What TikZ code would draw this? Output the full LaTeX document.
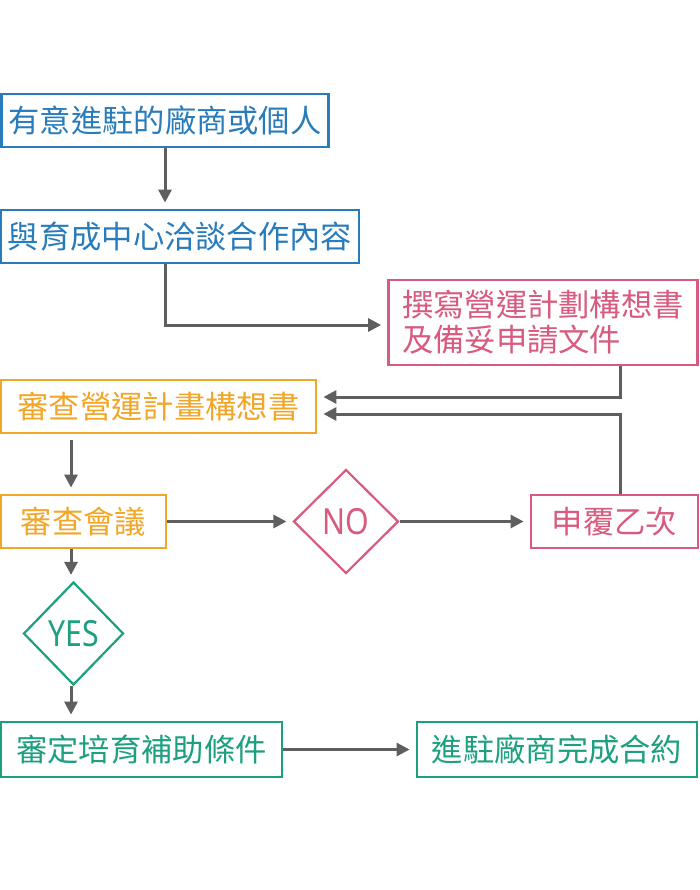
\documentclass[tikz,border=0pt]{standalone}
\usepackage{fontspec}
\usetikzlibrary{arrows.meta,shapes.geometric,calc}
\newfontfamily\cjk{Noto Sans CJK TC}
\newfontfamily\latinc[FakeStretch=0.84]{Noto Sans}
\definecolor{cblue}{RGB}{40,124,188}
\definecolor{cpink}{RGB}{216,90,126}
\definecolor{corange}{RGB}{242,166,40}
\definecolor{cgreen}{RGB}{28,160,128}
\definecolor{cgray}{RGB}{95,95,95}
\tikzset{
  box/.style={draw, line width=2.8pt, fill=white, inner sep=0pt, align=left,
    font=\cjk\fontsize{31.3}{35}\selectfont},
  dia/.style={diamond, draw, line width=2.2pt, fill=white, inner sep=0pt, aspect=1,
    font=\latinc\fontsize{36}{36}\selectfont},
  conn/.style={draw=cgray, line width=3pt, -{Triangle[length=13pt,width=13pt]},
    shorten >=6pt},
}
\begin{document}
\begin{tikzpicture}[x=1pt,y=-1pt]
\useasboundingbox[fill=white] (0,0) rectangle (700,890);
\node[box, draw=cblue, text=cblue, minimum width=327, minimum height=53] (b1) at (165,120.5) {有意進駐的廠商或個人};
\node[box, draw=cblue, text=cblue, minimum width=358, minimum height=53] (b2) at (180,236.5) {與育成中心洽談合作內容};
\node[box, draw=cpink, text=cpink, minimum width=309, minimum height=85] (b3) at (543,322.5) {撰寫營運計劃構想書\\及備妥申請文件};
\node[box, draw=corange, text=corange, minimum width=315, minimum height=53] (b4) at (158.5,406.5) {審查營運計畫構想書};
\node[box, draw=corange, text=corange, minimum width=165, minimum height=53] (b5) at (83.5,521.5) {審查會議};
\node[dia, draw=cpink, text=cpink, minimum width=105, minimum height=104] (no) at (346,521.5) {NO};
\node[box, draw=cpink, text=cpink, minimum width=167, minimum height=53] (b6) at (614.5,521.5) {申覆乙次};
\node[dia, draw=cgreen, text=cgreen, minimum width=100, minimum height=103] (yes) at (73.5,633.5) {YES};
\node[box, draw=cgreen, text=cgreen, minimum width=281, minimum height=55] (b7) at (141.5,749.5) {審定培育補助條件};
\node[box, draw=cgreen, text=cgreen, minimum width=280, minimum height=55] (b8) at (557,749.5) {進駐廠商完成合約};
\coordinate (k1) at (165,325);
\coordinate (k2) at (620,397);
\coordinate (k3) at (620,414);
\coordinate (v1) at (71,0);
\draw[conn] (b1.south) -- (b1.south |- b2.north);
\draw[conn] (b1.south |- b2.south) -- (k1) -- (k1 -| b3.west);
\draw[conn] (k2 |- b3.south) -- (k2) -- (k2 -| b4.east);
\draw[conn] (k3 |- b6.north) -- (k3) -- (k3 -| b4.east);
\draw[conn, shorten <=6pt] (v1 |- b4.south) -- (v1 |- b5.north);
\draw[conn] (b5.east) -- (no.west);
\draw[conn] (no.east) -- (b6.west);
\draw[conn] (v1 |- b5.south) -- (v1 |- yes.north);
\draw[conn] (v1 |- yes.south) -- (v1 |- b7.north);
\draw[conn] (b7.east) -- (b8.west);
\end{tikzpicture}
\end{document}
